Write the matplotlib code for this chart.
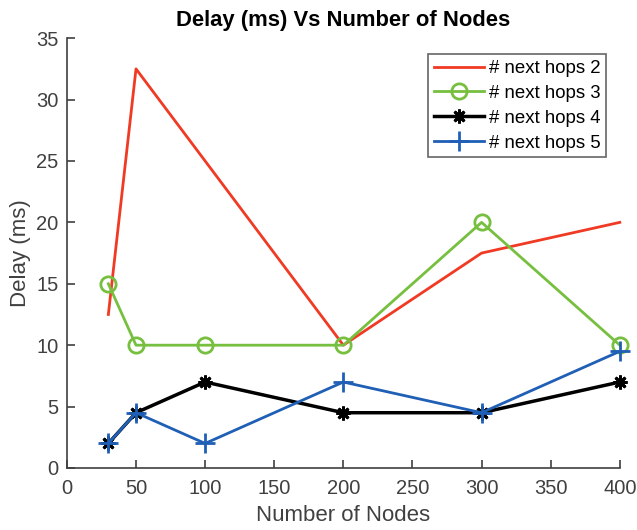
import numpy as np
import matplotlib.pyplot as plt

plt.rcParams['font.family'] = ['Liberation Sans', 'DejaVu Sans']

nodes = [30, 50, 100, 200, 300, 400]
hops2 = [12.5, 32.5, 25, 10, 17.5, 20]
hops3 = [15, 10, 10, 10, 20, 10]
hops4 = [2, 4.5, 7, 4.5, 4.5, 7]
hops5 = [2, 4.5, 2, 7, 4.5, 9.5]
labels = ['# next hops 2', '# next hops 3', '# next hops 4', '# next hops 5']

axis_col = '#404040'

fig = plt.figure(figsize=(6.37, 5.3), dpi=100)
ax = fig.add_axes([0.105, 0.117, 0.868, 0.811])

ax.plot(nodes, hops2, color='#f03a24', lw=2, label=labels[0], clip_on=False)
ax.plot(nodes, hops3, color='#77bf3e', lw=2, marker='o', ms=11, mfc='none', mew=2,
        label=labels[1], clip_on=False)
ax.plot(nodes, hops4, color='black', lw=2.5, marker=(8, 2, 0), ms=10, mew=2,
        label=labels[2], clip_on=False)
ax.plot(nodes, hops5, color='#1f5fb5', lw=2, marker='+', ms=14, mew=2,
        label=labels[3], clip_on=False)

ax.set_xlim(0, 400)
ax.set_ylim(0, 35)
ax.set_xticks(np.arange(0, 401, 50))
ax.set_yticks(np.arange(0, 36, 5))
ax.spines['top'].set_visible(False)
ax.spines['right'].set_visible(False)
for s in ['left', 'bottom']:
    ax.spines[s].set_color(axis_col)
    ax.spines[s].set_linewidth(1.2)
ax.tick_params(direction='in', length=6, width=1.2, colors=axis_col, labelsize=14.5)
ax.tick_params(axis='x', pad=8)
ax.tick_params(axis='y', pad=6)

ax.set_xlabel('Number of Nodes', fontsize=16, color=axis_col, labelpad=5)
ax.set_ylabel('Delay (ms)', fontsize=16, color=axis_col, labelpad=4)
ax.set_title('Delay (ms) Vs Number of Nodes', fontsize=15.8, fontweight='bold', pad=9)

leg = ax.legend(loc='upper right', bbox_to_anchor=(0.975, 0.962), fontsize=13.4, frameon=True,
                fancybox=False, edgecolor=axis_col, handlelength=2.7, borderpad=0.3,
                labelspacing=0.42, handletextpad=0.25, borderaxespad=0)
leg.get_frame().set_linewidth(1.2)

fig.savefig('out.png', dpi=100)
